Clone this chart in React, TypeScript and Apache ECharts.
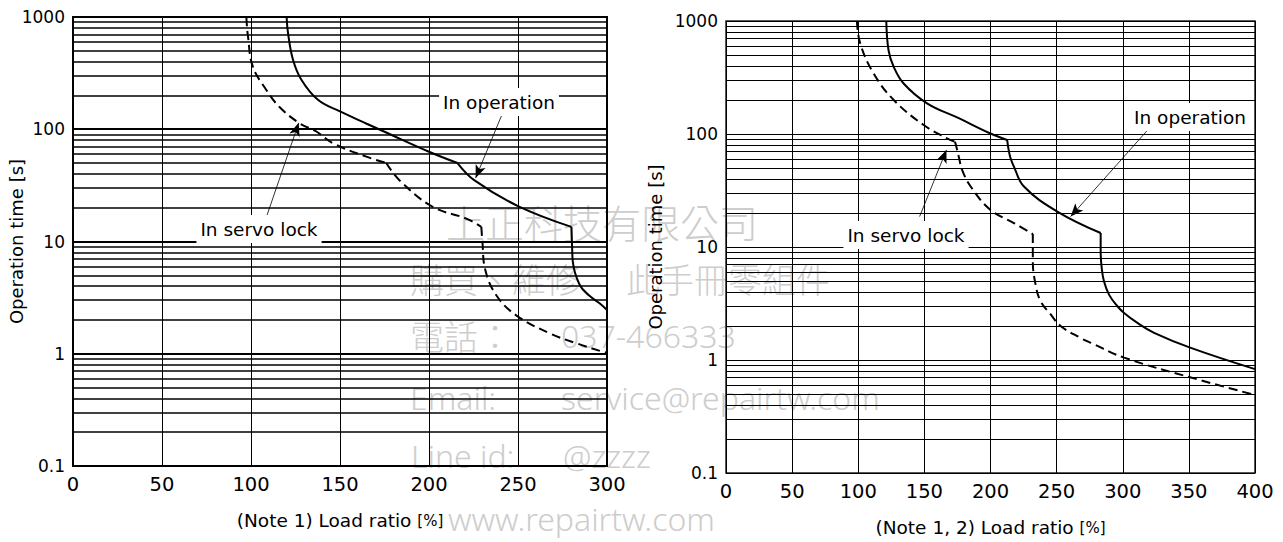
import React, { useEffect, useRef } from "react";
import * as echarts from "echarts";

// ---- data ----
const yMinorValues = [
  0.2, 0.3, 0.4, 0.5, 0.6, 0.7, 0.8, 0.9,
  2, 3, 4, 5, 6, 7, 8, 9,
  20, 30, 40, 50, 60, 70, 80, 90,
  200, 300, 400, 500, 600, 700, 800, 900,
];

// Each curve is given as smooth pieces that meet at its sharp corners.
// Left chart: load ratio [%] vs operation time [s]
const leftOperation: [number, number][][] = [
  [[120, 1000], [120.8, 720], [123.6, 416], [128.3, 276], [137.6, 183],
   [150, 144], [165, 112], [175, 95], [200, 63], [216, 50]],
  [[216, 50], [225.6, 35], [250, 20.7], [280, 13.5]],
  [[280, 13.5], [280.4, 9], [280.8, 6.6], [284.7, 4.1], [290, 3.3],
   [296, 2.8], [300, 2.45]],
];
const leftServoLock: [number, number][][] = [
  [[97.4, 1000], [97.6, 880], [98.3, 671], [101, 363], [108.6, 224],
   [116, 158], [127.3, 113], [136.7, 95.5], [146, 75], [164.8, 57], [176, 50]],
  [[176, 50], [183.5, 35], [202, 20.4], [221, 16], [229.4, 13.5]],
  [[229.4, 13.5], [230, 10], [231.6, 5.6], [237.9, 3.3], [249, 2.2],
   [267.8, 1.52], [282.8, 1.24], [297.8, 1.04], [300, 1.02]],
];

// Right chart
const rightOperation: [number, number][][] = [
  [[121.2, 1000], [122.9, 551], [126.8, 393], [134.3, 280], [152, 187],
   [176, 138], [200, 101], [212.6, 88.5]],
  [[212.6, 88.5], [213.5, 75], [215, 62], [217.7, 51.5], [225.3, 34.3],
   [250.5, 20.6], [283.3, 13.3]],
  [[283.3, 13.3], [283.3, 9.1], [284.1, 6.5], [285.8, 4.97], [289.6, 3.79],
   [296, 2.99], [301, 2.61], [311.1, 2.13], [323.7, 1.74], [351.5, 1.28],
   [400, 0.83]],
];
const rightServoLock: [number, number][][] = [
  [[99, 1000], [101.5, 631], [111.6, 344], [126.8, 200], [149.5, 120],
   [167, 91.6], [173, 85.5]],
  [[173, 85.5], [173.5, 82.8], [176, 63], [178.6, 48], [185, 34.3],
   [200, 21.3], [217.7, 16.3], [232, 13]],
  [[232, 13], [232, 7.5], [234.1, 4.64], [237.9, 3.31], [245.5, 2.53],
   [253, 2.0], [268, 1.57], [275.8, 1.42], [301, 1.05], [351.5, 0.7],
   [400, 0.49]],
];

// annotation arrows: [tail, head] in data coordinates
const leftOperationArrow: [number, number][] = [[241.4, 140], [226.2, 36.8]];
const leftServoArrow: [number, number][] = [[108.7, 16.6], [126.8, 114]];
const rightOperationArrow: [number, number][] = [[318.7, 108], [260.6, 18.6]];
const rightServoArrow: [number, number][] = [[146.4, 18.6], [166.7, 72.3]];

const FONT = "DejaVu Sans";
const WM = "#cdcdcd";

function yLabel(v: number) {
  return v < 1 ? v.toFixed(1) : String(Math.round(v));
}

export default function App() {
  const ref = useRef<HTMLDivElement>(null);

  useEffect(() => {
    const chart = echarts.init(ref.current!, null, { renderer: "svg" });

    const xAxisBase = (grid: number, max: number, name: string) => ({
      gridIndex: grid,
      type: "value",
      min: 0,
      max,
      interval: 50,
      axisLine: { show: false },
      axisTick: { show: false },
      splitLine: { show: true, lineStyle: { color: "#000", width: 1 } },
      axisLabel: { fontSize: 19.5, color: "#000", fontFamily: FONT, margin: 8 },
      name,
      nameLocation: "middle",
      nameGap: 45,
      nameMoveOverlap: false,
      nameTextStyle: {
        fontSize: 18.5,
        color: "#000",
        fontFamily: FONT,
        rich: { s: { fontSize: 15, color: "#000", fontFamily: FONT } },
      },
    });

    const yAxisBase = (grid: number, width: number, gap: number) => ({
      gridIndex: grid,
      type: "log",
      logBase: 10,
      min: 0.1,
      max: 1000,
      axisLine: { show: false },
      axisTick: { show: false },
      splitLine: { show: true, lineStyle: { color: "#000", width } },
      axisLabel: {
        fontSize: 17,
        color: "#000",
        fontFamily: FONT,
        margin: 8,
        formatter: (v: number) => yLabel(v),
      },
      name: "Operation time [s]",
      nameLocation: "middle",
      nameGap: gap,
      nameMoveOverlap: false,
      nameTextStyle: { fontSize: 18, color: "#000", fontFamily: FONT },
    });

    const minorSeries = (idx: number, width: number) => ({
      type: "line",
      xAxisIndex: idx,
      yAxisIndex: idx,
      data: [],
      silent: true,
      z: 1,
      markLine: {
        silent: true,
        animation: false,
        symbol: ["none", "none"],
        label: { show: false },
        lineStyle: { color: "#000", width, type: "solid" },
        data: yMinorValues.map((v) => ({ yAxis: v })),
      },
    });

    const curves = (idx: number, pieces: [number, number][][], dashed: boolean) =>
      pieces.map((data) => ({
        type: "line",
        xAxisIndex: idx,
        yAxisIndex: idx,
        data,
        symbol: "none",
        showSymbol: false,
        smooth: 0.4,
        silent: true,
        z: 3,
        lineStyle: { color: "#000", width: 2, type: dashed ? [9, 5] : "solid" },
      }));

    const arrowSeries = (idx: number, arrows: [number, number][][]) => ({
      type: "line",
      xAxisIndex: idx,
      yAxisIndex: idx,
      data: [],
      silent: true,
      z: 4,
      markLine: {
        silent: true,
        animation: false,
        symbol: ["none", "arrow"],
        symbolSize: [8, 13],
        label: { show: false },
        lineStyle: { color: "#000", width: 0.8, type: "solid" },
        data: arrows.map((a) => [{ coord: a[0] }, { coord: a[1] }]),
      },
    });

    const annot = (text: string, x: number, y: number) => ({
      type: "text",
      x,
      y,
      z: 20,
      style: {
        text,
        fill: "#000",
        fontSize: 18.5,
        fontFamily: FONT,
        align: "center",
        verticalAlign: "middle",
        backgroundColor: "#fff",
        padding: [5, 4, 4, 4],
      },
    });

    const wm = (text: string, x: number, y: number, size: number, family: string) => ({
      type: "text",
      x,
      y,
      z: -10,
      silent: true,
      style: {
        text,
        fill: WM,
        fontSize: size,
        fontFamily: family,
        fontWeight: 300,
        align: "left",
        verticalAlign: "middle",
      },
    });

    const CJK = '"Noto Sans CJK TC"';
    const LAT = '"Noto Sans"';

    const option: any = {
      animation: false,
      backgroundColor: "#fff",
      grid: [
        { left: 73, top: 17, width: 534, height: 449, show: true, borderColor: "#000", borderWidth: 2, backgroundColor: "transparent" },
        { left: 726, top: 21, width: 529, height: 453, show: true, borderColor: "#222", borderWidth: 1.5, backgroundColor: "transparent" },
      ],
      xAxis: [
        xAxisBase(0, 300, "(Note 1) Load ratio {s|[%]}"),
        xAxisBase(1, 400, "(Note 1, 2) Load ratio {s|[%]}"),
      ],
      yAxis: [yAxisBase(0, 2, 48), yAxisBase(1, 1, 62)],
      series: [
        minorSeries(0, 1.5),
        minorSeries(1, 1),
        ...curves(0, leftOperation, false),
        ...curves(0, leftServoLock, true),
        ...curves(1, rightOperation, false),
        ...curves(1, rightServoLock, true),
        arrowSeries(0, [leftOperationArrow, leftServoArrow]),
        arrowSeries(1, [rightOperationArrow, rightServoArrow]),
      ],
      graphic: [
        wm("上正科技有限公司", 446, 221, 39, CJK),
        wm("購買、維修", 410, 278, 34, CJK),
        wm("此手冊零組件", 626, 278, 34, CJK),
        wm("電話：", 410, 335, 34, CJK),
        wm("037-466333", 561, 335, 32, LAT),
        wm("Email:", 410, 397, 32, LAT),
        wm("service@repairtw.com", 561, 397, 32, LAT),
        wm("Line id:", 411, 455, 32, LAT),
        wm("@zzzz", 563, 455, 32, LAT),
        wm("www.repairtw.com", 448, 518, 32, LAT),
        annot("In operation", 499, 102),
        annot("In servo lock", 259, 229),
        annot("In operation", 1190, 117),
        annot("In servo lock", 906, 235),
      ],
    };

    chart.setOption(option);
    return () => chart.dispose();
  }, []);

  return (
    <div
      ref={ref}
      style={{ position: "absolute", left: 0, top: 0, width: 1283, height: 542, background: "#fff" }}
    />
  );
}
